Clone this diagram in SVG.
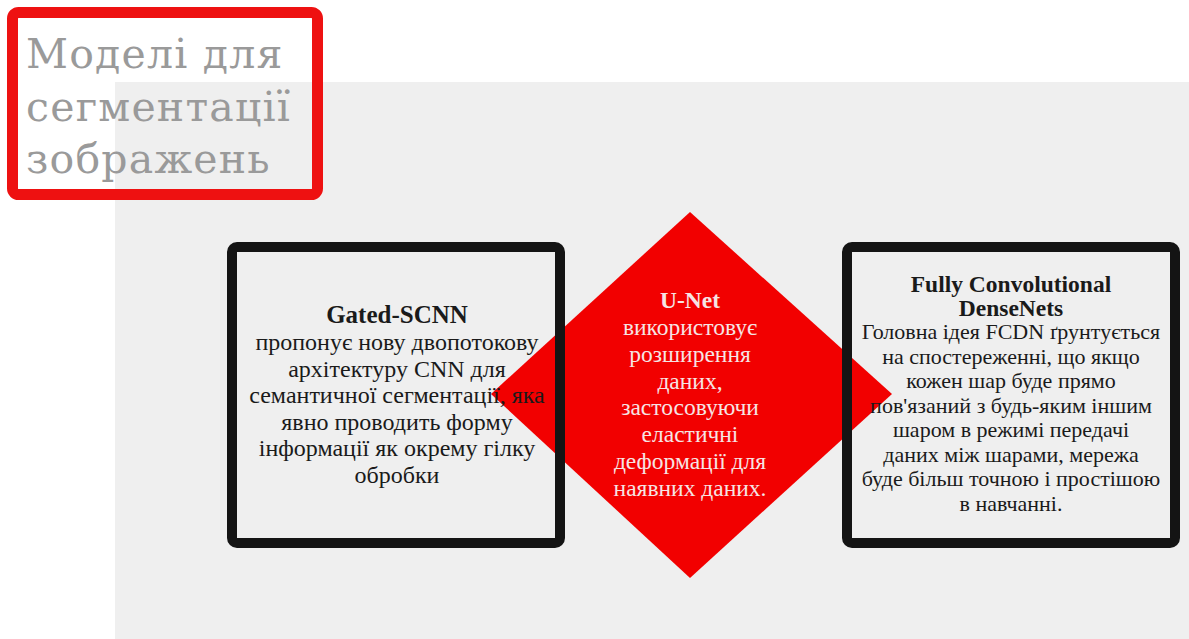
<svg xmlns="http://www.w3.org/2000/svg" width="1189" height="639" viewBox="0 0 1189 639">
  <style>
    .bg { fill: #efefef; }
    .box { fill: none; stroke: #141414; stroke-width: 10; }
    .t { font-family: "Liberation Serif", "DejaVu Serif", serif; fill: #1a1a1a; text-anchor: middle; }
    .l { font-size: 24px; }
    .r { font-size: 22px; }
    .d { font-size: 23.5px; fill: #f6e4e4; }
    .tb { font-weight: bold; }
    .l .tb { font-size: 25px; }
    .r .tb { font-size: 23.5px; }
    .title { font-family: "DejaVu Serif", "Liberation Serif", serif; font-size: 41px; letter-spacing: 1.2px; fill: #9a9a9a; }
  </style>
  <rect width="1189" height="639" fill="#ffffff"/>
  <rect class="bg" x="115" y="82" width="1074" height="557"/>

  <g id="title">
    <rect x="12.5" y="12.5" width="305" height="182" rx="6" fill="none" stroke="#ee1111" stroke-width="11"/>
    <text class="title" x="26" y="68">Моделі для</text>
    <text class="title" x="26" y="121">сегментації</text>
    <text class="title" x="26" y="173">зображень</text>
  </g>

  <g id="unet">
    <polygon points="690,212 892,394 690,578 491,394" fill="#f20000"/>
  </g>

  <g id="gated-scnn">
    <rect class="box" x="232" y="247" width="328" height="296" rx="5"/>
    <text class="t l"><tspan class="tb" x="397" y="323">Gated-SCNN</tspan><tspan x="397" y="350">пропонує  нову двопотокову</tspan><tspan x="397" y="377">архітектуру CNN для</tspan><tspan x="397" y="403">семантичної  сегментації,  яка</tspan><tspan x="397" y="430">явно проводить  форму</tspan><tspan x="397" y="456">інформації  як окрему гілку</tspan><tspan x="397" y="483">обробки</tspan></text>
  </g>

  <g id="unet-text">
    <text class="t d"><tspan class="tb" x="690" y="308">U-Net</tspan><tspan x="690" y="335">використовує</tspan><tspan x="690" y="362">розширення</tspan><tspan x="690" y="389">даних,</tspan><tspan x="690" y="415">застосовуючи</tspan><tspan x="690" y="442">еластичні</tspan><tspan x="690" y="469">деформації  для</tspan><tspan x="690" y="496">наявних даних.</tspan></text>
  </g>

  <g id="fcdn">
    <rect class="box" x="847" y="247" width="328" height="296" rx="5"/>
    <text class="t r"><tspan class="tb" x="1011" y="292">Fully Convolutional</tspan><tspan class="tb" x="1011" y="316">DenseNets</tspan><tspan x="1011" y="339">Головна ідея FCDN ґрунтується</tspan><tspan x="1011" y="364">на спостереженні, що якщо</tspan><tspan x="1011" y="388">кожен шар буде прямо</tspan><tspan x="1011" y="413">пов'язаний з будь-яким іншим</tspan><tspan x="1011" y="437">шаром в режимі  передачі</tspan><tspan x="1011" y="462">даних між шарами, мережа</tspan><tspan x="1011" y="486">буде більш точною і простішою</tspan><tspan x="1011" y="511">в навчанні.</tspan></text>
  </g>
</svg>
